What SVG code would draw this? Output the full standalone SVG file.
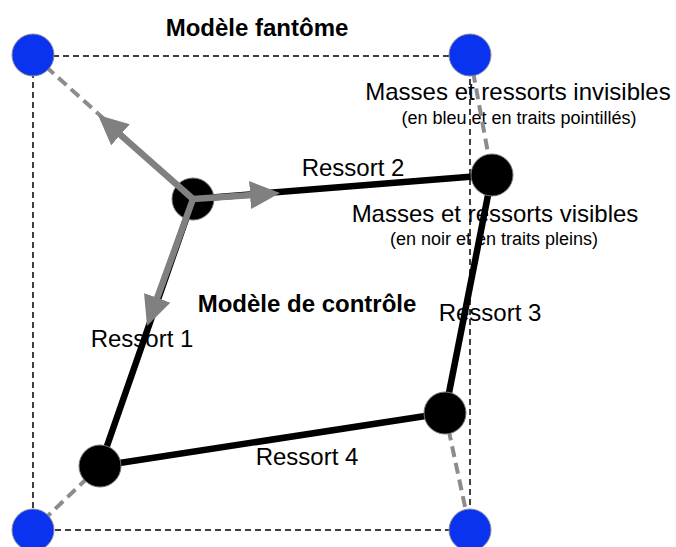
<svg xmlns="http://www.w3.org/2000/svg" width="676" height="547" viewBox="0 0 676 547">
<style>
.t{font-family:"Liberation Sans",Arial,sans-serif;fill:#000;text-anchor:middle}
.big{font-size:24px}
.bold{font-size:24px;font-weight:bold}
.small{font-size:18px}
.frame{fill:none;stroke:#000;stroke-width:1.5;stroke-dasharray:6,4}
.ghost{stroke:#8c8c8c;stroke-width:4;stroke-dasharray:11,6;fill:none}
.spring{stroke:#000;stroke-width:6.5;fill:none}
.force{stroke:#808080;stroke-width:6.5;fill:none}
.blue{fill:#0a33f0;stroke:#8a8aa0;stroke-width:1}
.mass{fill:#000;stroke:#777;stroke-width:1}
</style>
<defs>
<marker id="head" markerUnits="userSpaceOnUse" markerWidth="30" markerHeight="28" refX="20" refY="14" orient="auto" viewBox="0 0 30 28">
<path d="M0,0 L30,14 L0,28 z" fill="#808080"/>
</marker>
</defs>
<g id="labels">
<text class="t bold" x="257" y="36">Modèle fantôme</text>
<text class="t big" x="518" y="100">Masses et ressorts invisibles</text>
<text class="t small" x="519" y="124">(en bleu et en traits pointillés)</text>
<text class="t big" x="353" y="176">Ressort 2</text>
<text class="t big" x="495" y="222">Masses et ressorts visibles</text>
<text class="t small" x="494" y="245">(en noir et en traits pleins)</text>
<text class="t bold" x="307" y="312">Modèle de contrôle</text>
<text class="t big" x="490" y="321">Ressort 3</text>
<text class="t big" x="142" y="347">Ressort 1</text>
<text class="t big" x="307" y="465">Ressort 4</text>
</g>
<g id="connectors">
<rect class="frame" x="33" y="56" width="437" height="474"/>
<line class="ghost" x1="33" y1="55" x2="193" y2="199"/>
<line class="ghost" x1="470" y1="55" x2="492" y2="175"/>
<line class="ghost" x1="445" y1="413" x2="470" y2="530"/>
<line class="ghost" x1="100" y1="466" x2="33" y2="530"/>
<line class="spring" x1="193" y1="199" x2="492" y2="175"/>
<line class="spring" x1="492" y1="175" x2="445" y2="413"/>
<line class="spring" x1="445" y1="413" x2="100" y2="466"/>
<line class="spring" x1="100" y1="466" x2="193" y2="199"/>
</g>
<g id="ghost-tl"><circle class="blue" cx="33" cy="55" r="21"/></g>
<g id="ghost-tr"><circle class="blue" cx="470" cy="55" r="21"/></g>
<g id="ghost-bl"><circle class="blue" cx="33" cy="530" r="21"/></g>
<g id="ghost-br"><circle class="blue" cx="470" cy="530" r="21"/></g>
<g id="mass-tl"><circle class="mass" cx="193" cy="199" r="21"/></g>
<g id="mass-tr"><circle class="mass" cx="492" cy="175" r="21"/></g>
<g id="mass-br"><circle class="mass" cx="445" cy="413" r="21"/></g>
<g id="mass-bl"><circle class="mass" cx="100" cy="466" r="21"/></g>
<g id="forces">
<line class="force" x1="193" y1="199" x2="105.5" y2="121.6" marker-end="url(#head)"/>
<line class="force" x1="193" y1="199" x2="270" y2="193.7" marker-end="url(#head)"/>
<line class="force" x1="193" y1="199" x2="150.4" y2="316.6" marker-end="url(#head)"/>
</g>
</svg>
